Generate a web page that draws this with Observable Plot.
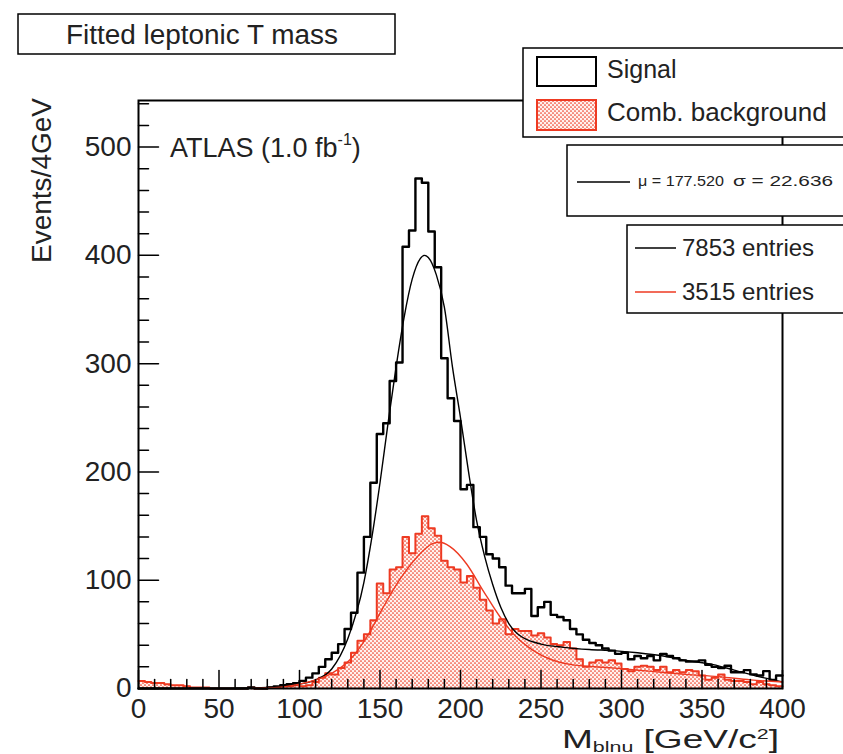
<!DOCTYPE html>
<html>
<head>
<meta charset="utf-8">
<script src="https://cdn.jsdelivr.net/npm/d3@7"></script>
<script src="https://cdn.jsdelivr.net/npm/@observablehq/plot@0.6"></script>
<style>
html, body { margin: 0; padding: 0; background: #fff; }
#chart { position: relative; width: 843px; height: 754px; }
</style>
</head>
<body>
<div id="chart"></div>
<script>
// ---------- data ----------
const binWidth = 4; // GeV
const binStarts = d3.range(0, 400, binWidth);

// Signal histogram (events / 4 GeV), 100 bins from 0 to 400
const signalCounts = [
  0,0,0,0,0,0,0,0,0,0,
  0,0,0,0,0,0,0,1,0,0,
  1,2,3,4,5,7,10,14,20,27,
  33,41,55,70,107,140,190,235,245,284,
  301,408,423,471,467,422,389,305,268,247,
  184,188,149,140,124,120,112,95,88,88,
  92,67,75,80,68,66,63,55,50,45,
  42,40,37,35,32,33,27,30,28,30,
  26,32,30,28,26,25,25,26,22,20,
  19,21,15,15,17,13,12,16,8,12
];

// Combinatorial background histogram
const backgroundCounts = [
  7,6,5,5,4,3,3,2,1,1,
  1,0,0,0,0,0,0,1,0,0,
  1,1,2,2,3,2,3,6,10,14,
  13,19,24,33,44,50,63,97,88,110,
  112,140,125,143,159,148,141,118,112,110,
  98,104,93,82,72,60,64,50,55,53,
  53,49,51,47,41,40,43,37,27,20,
  24,26,24,26,23,18,16,20,21,20,
  17,20,15,17,15,17,16,12,8,10,
  13,8,7,7,6,4,6,4,3,2
];

// Fit curves
const signalFitMass  = [60, 80, 100, 110, 120, 130, 140, 145, 150, 155, 160, 165, 170, 175, 177.5, 180, 185, 190, 195, 200, 205, 210, 215, 220, 225, 230, 235, 240, 250, 264, 280, 295, 310, 326, 340, 357, 370, 388, 400];
const signalFitValue = [0, 1, 4, 8, 18, 46, 98, 140, 190, 245, 297, 343, 378, 397, 400, 398, 382, 352, 297, 250, 200, 155, 122, 96, 75, 60, 51, 46, 41, 38, 36, 35, 33, 30, 26, 22, 17, 10, 6];

const backgroundFitMass  = [70, 80, 90, 100, 110, 120, 131, 141.6, 152, 162, 172.8, 183, 187, 193.5, 203.8, 214.2, 224.6, 235, 245.3, 255.7, 269, 294, 317, 340, 360, 380, 400];
const backgroundFitValue = [0, 0.5, 1.5, 4, 8, 14, 26, 47, 75, 100, 121, 134, 135, 131, 115, 90, 66, 47, 35, 27, 22, 19, 16, 13, 11, 8, 6];

// Axes
const xMajorTicks = [0, 50, 100, 150, 200, 250, 300, 350, 400];
const xMinorTicks = d3.range(0, 401, 10).filter(v => v % 50 !== 0);
const yMajorTicks = [0, 100, 200, 300, 400, 500];
const yMinorTicks = d3.range(0, 541, 20).filter(v => v % 100 !== 0);
const yMax = 543;

// Texts
const titleText = "Fitted leptonic T mass";
const legendLabels = ["Signal", "Comb. background"];
const fitLabel = ["\u03bc = 177.520", "\u03c3 = 22.636"];
const entriesLabels = ["7853 entries", "3515 entries"];

// ---------- build ----------
const RED = "#ee3a22";
const FONT = "Liberation Sans, Arial, Helvetica, sans-serif";

const stepPoints = counts =>
  binStarts.map((x, i) => ({x, y: counts[i]})).concat([{x: 400, y: counts[counts.length - 1]}]);
const sigSteps = stepPoints(signalCounts);
const bgSteps = stepPoints(backgroundCounts);
const sigFit = signalFitMass.map((x, i) => ({x, y: signalFitValue[i]}));
const bgFit = backgroundFitMass.map((x, i) => ({x, y: backgroundFitValue[i]}));

const tickShape = {draw(ctx, l) { ctx.moveTo(0, 0); ctx.lineTo(0, -l); }};

const plot = Plot.plot({
  width: 843,
  height: 754,
  marginLeft: 138,
  marginRight: 61,
  marginTop: 100,
  marginBottom: 66,
  style: {fontFamily: FONT, fontSize: "28px", color: "black", background: "white"},
  x: {domain: [0, 400]},
  y: {domain: [0, yMax]},
  marks: [
    Plot.areaY(bgSteps, {x: "x", y: "y", curve: "step-after", fill: "url(#rootdots)"}),
    Plot.line(bgSteps, {x: "x", y: "y", curve: "step-after", stroke: RED, strokeWidth: 2}),
    Plot.line(sigSteps, {x: "x", y: "y", curve: "step-after", stroke: "black", strokeWidth: 2.4}),
    Plot.line(sigFit, {x: "x", y: "y", curve: "monotone-x", stroke: "black", strokeWidth: 1.4}),
    Plot.line(bgFit, {x: "x", y: "y", curve: "monotone-x", stroke: RED, strokeWidth: 1.4}),
    Plot.frame({stroke: "black", strokeWidth: 2}),
    Plot.vectorX(xMajorTicks, {x: d => d, frameAnchor: "bottom", length: 18, anchor: "start", shape: tickShape, stroke: "black", strokeWidth: 1.5, fill: "none"}),
    Plot.vectorX(xMinorTicks, {x: d => d, frameAnchor: "bottom", length: 9, anchor: "start", shape: tickShape, stroke: "black", strokeWidth: 1.5, fill: "none"}),
    Plot.vectorY(yMajorTicks, {y: d => d, frameAnchor: "left", rotate: 90, length: 20, anchor: "start", shape: tickShape, stroke: "black", strokeWidth: 1.5, fill: "none"}),
    Plot.vectorY(yMinorTicks, {y: d => d, frameAnchor: "left", rotate: 90, length: 10, anchor: "start", shape: tickShape, stroke: "black", strokeWidth: 1.5, fill: "none"}),
    Plot.axisX(xMajorTicks, {tickSize: 0, tickPadding: 10, label: null, tickFormat: d => String(d), fill: "#222"}),
    Plot.axisY(yMajorTicks, {tickSize: 0, tickPadding: 7, label: null, tickFormat: d => String(d), fill: "#222"})
  ]
});

const svg = d3.select(plot);

// dotted fill pattern (ROOT style 3001-like)
const defs = svg.insert("defs", ":first-child");
const pat = defs.append("pattern").attr("id", "rootdots")
  .attr("patternUnits", "userSpaceOnUse").attr("width", 4).attr("height", 4);
pat.append("rect").attr("width", 4).attr("height", 4).attr("fill", "#fff2ef");
pat.append("circle").attr("cx", 1).attr("cy", 1).attr("r", 0.85).attr("fill", RED);
pat.append("circle").attr("cx", 3).attr("cy", 3).attr("r", 0.85).attr("fill", RED);

const g = svg.append("g").attr("font-family", FONT).attr("fill", "#222").attr("text-anchor", "start");

function txt(x, y, s, size, anchor = "start") {
  return g.append("text").attr("x", x).attr("y", y).attr("font-size", size)
    .attr("text-anchor", anchor).text(s);
}
function box(x, y, w, h, sw = 1.5) {
  g.append("rect").attr("x", x).attr("y", y).attr("width", w).attr("height", h)
    .attr("fill", "white").attr("stroke", "black").attr("stroke-width", sw);
}

// title box
box(18, 14, 377, 40);
txt(66, 44, titleText, 27).attr("textLength", 272).attr("lengthAdjust", "spacingAndGlyphs");

// ATLAS label
const at = g.append("text").attr("x", 170).attr("y", 157).attr("font-size", 27).attr("text-anchor", "start");
at.append("tspan").text("ATLAS (1.0 fb");
at.append("tspan").attr("font-size", 16).attr("dy", -12).text("-1");
at.append("tspan").attr("dy", 12).text(")");

// y axis title
g.append("text").attr("transform", "translate(51,98) rotate(-90)")
  .attr("text-anchor", "end").attr("font-size", 28).text("Events/4GeV");

// x axis title
const xt = g.append("text").attr("x", 562).attr("y", 748).attr("text-anchor", "start").attr("font-size", 26)
  .attr("textLength", 217).attr("lengthAdjust", "spacingAndGlyphs");
xt.append("tspan").text("M");
xt.append("tspan").attr("font-size", 15).attr("dy", 4).text("blnu");
xt.append("tspan").attr("dy", -4).text(" [GeV/c");
xt.append("tspan").attr("font-size", 15).attr("dy", -9).text("2");
xt.append("tspan").attr("dy", 9).text("]");

// legend 1
box(523, 48, 330, 89);
g.append("rect").attr("x", 537).attr("y", 57).attr("width", 59).attr("height", 29)
  .attr("fill", "white").attr("stroke", "black").attr("stroke-width", 2);
txt(607, 78, legendLabels[0], 25);
g.append("rect").attr("x", 537).attr("y", 100).attr("width", 59).attr("height", 30)
  .attr("fill", "url(#rootdots)").attr("stroke", RED).attr("stroke-width", 2);
txt(607, 121, legendLabels[1], 26);

// fit box
box(567, 145, 290, 71);
g.append("line").attr("x1", 577).attr("x2", 630).attr("y1", 182).attr("y2", 182).attr("stroke", "black").attr("stroke-width", 1.5);
txt(638, 186, fitLabel[0], 15).attr("textLength", 86).attr("lengthAdjust", "spacingAndGlyphs");
txt(733, 186, fitLabel[1], 15).attr("textLength", 100).attr("lengthAdjust", "spacingAndGlyphs");

// entries box
box(627, 225, 230, 88);
g.append("line").attr("x1", 635).attr("x2", 676).attr("y1", 248).attr("y2", 248).attr("stroke", "black").attr("stroke-width", 1.5);
txt(682, 256, entriesLabels[0], 24);
g.append("line").attr("x1", 635).attr("x2", 676).attr("y1", 292).attr("y2", 292).attr("stroke", RED).attr("stroke-width", 1.5);
txt(682, 300, entriesLabels[1], 24);

document.getElementById("chart").appendChild(plot);
</script>
</body>
</html>
